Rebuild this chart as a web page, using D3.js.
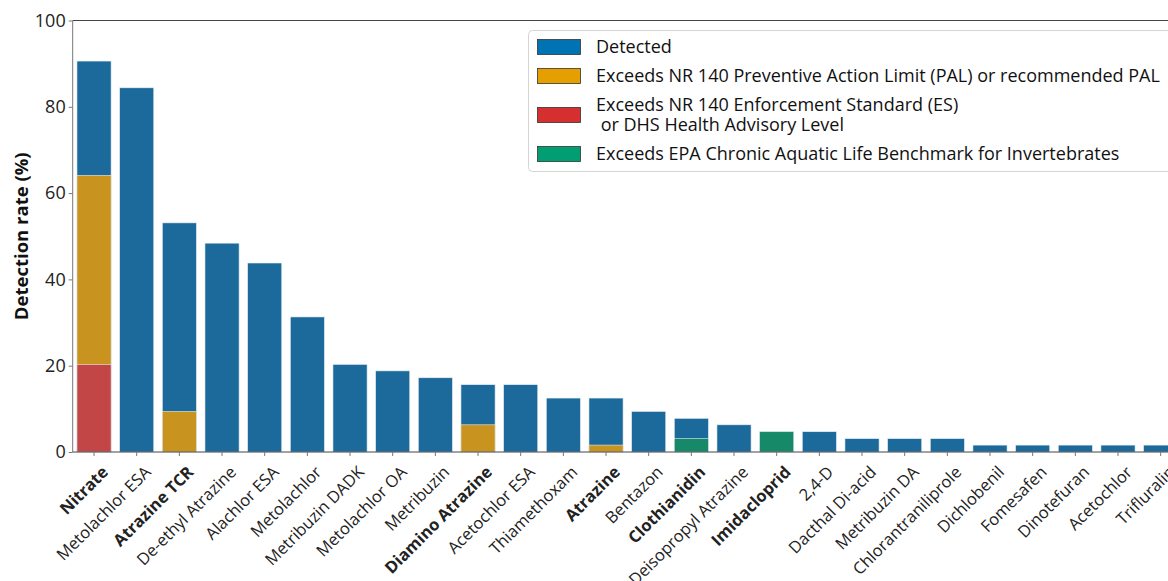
<!DOCTYPE html>
<html>
<head>
<meta charset="utf-8">
<script src="https://cdn.jsdelivr.net/npm/d3@7"></script>
<style>
  html, body { margin: 0; padding: 0; background: #fff; }
  svg { display: block; font-family: "Open Sans", "Noto Sans", sans-serif; }
</style>
</head>
<body>
<svg id="chart" width="1168" height="581"></svg>
<script>
// Compounds, in order of overall detection rate
const compounds = [
  "Nitrate", "Metolachlor ESA", "Atrazine TCR", "De-ethyl Atrazine", "Alachlor ESA",
  "Metolachlor", "Metribuzin DADK", "Metolachlor OA", "Metribuzin", "Diamino Atrazine",
  "Acetochlor ESA", "Thiamethoxam", "Atrazine", "Bentazon", "Clothianidin",
  "Deisopropyl Atrazine", "Imidacloprid", "2,4-D", "Dacthal Di-acid", "Metribuzin DA",
  "Chlorantraniliprole", "Dichlobenil", "Fomesafen", "Dinotefuran", "Acetochlor", "Trifluralin"
];
// Compounds with a health or aquatic-life standard (labels drawn in bold)
const boldCompounds = ["Nitrate", "Atrazine TCR", "Diamino Atrazine", "Atrazine", "Clothianidin", "Imidacloprid"];

// Detection rates (%)
const detected = [90.6, 84.4, 53.1, 48.4, 43.8, 31.3, 20.3, 18.8, 17.2, 15.6,
                  15.6, 12.5, 12.5, 9.4, 7.8, 6.3, 4.7, 4.7, 3.1, 3.1,
                  3.1, 1.6, 1.6, 1.6, 1.6, 1.6];
const exceedsPAL = [64.1, 0, 9.4, 0, 0, 0, 0, 0, 0, 6.3,
                    0, 0, 1.6, 0, 0, 0, 0, 0, 0, 0,
                    0, 0, 0, 0, 0, 0];
const exceedsES = [20.3, 0, 0, 0, 0, 0, 0, 0, 0, 0,
                   0, 0, 0, 0, 0, 0, 0, 0, 0, 0,
                   0, 0, 0, 0, 0, 0];
const exceedsBenchmark = [0, 0, 0, 0, 0, 0, 0, 0, 0, 0,
                          0, 0, 0, 0, 3.1, 0, 4.7, 0, 0, 0,
                          0, 0, 0, 0, 0, 0];

const yTicks = [0, 20, 40, 60, 80, 100];

const legendLabels = [
  ["Detected"],
  ["Exceeds NR 140 Preventive Action Limit (PAL) or recommended PAL"],
  ["Exceeds NR 140 Enforcement Standard (ES)", " or DHS Health Advisory Level"],
  ["Exceeds EPA Chronic Aquatic Life Benchmark for Invertebrates"]
];

// Bar fills (slightly muted) and matching legend swatches
const barColors = ["#1b6a9b", "#c9931f", "#c24646", "#168a68"];
const swatchColors = ["#0173b2", "#e69f00", "#d62f2f", "#029e73"];

const svg = d3.select("#chart");
const margin = { left: 72.7, top: 20.5, bottom: 452 };
const plotRight = 1182;

const x = d3.scaleBand()
  .domain(compounds)
  .range([margin.left, plotRight])
  .paddingInner(0.2)
  .paddingOuter(0.1);

const y = d3.scaleLinear().domain([0, 100]).range([margin.bottom, margin.top]);

const layers = [detected, exceedsPAL, exceedsES, exceedsBenchmark];
const plot = svg.append("g");

layers.forEach((vals, li) => {
  plot.append("g").selectAll("rect")
    .data(compounds.map((c, i) => ({ c, v: vals[i] })).filter(d => d.v > 0))
    .join("rect")
    .attr("x", d => x(d.c))
    .attr("width", x.bandwidth())
    .attr("y", d => y(d.v))
    .attr("height", d => y(0) - y(d.v))
    .attr("fill", barColors[li])
    .attr("stroke", "#e6eef3")
    .attr("stroke-width", 0.6);
});

// Spines
const spineColor = "#444";
svg.append("line").attr("x1", margin.left).attr("x2", plotRight)
  .attr("y1", margin.top).attr("y2", margin.top)
  .attr("stroke", spineColor).attr("stroke-width", 1);
svg.append("line").attr("x1", margin.left).attr("x2", plotRight)
  .attr("y1", margin.bottom).attr("y2", margin.bottom)
  .attr("stroke", spineColor).attr("stroke-width", 1);
svg.append("line").attr("x1", margin.left).attr("x2", margin.left)
  .attr("y1", margin.top).attr("y2", margin.bottom)
  .attr("stroke", "#777").attr("stroke-width", 1);

// Y axis
const yAxis = svg.append("g")
  .attr("transform", `translate(${margin.left},0)`)
  .call(d3.axisLeft(y).tickValues(yTicks).tickSize(4).tickPadding(3));
yAxis.select(".domain").remove();
yAxis.selectAll(".tick line").attr("stroke", "#777");
yAxis.selectAll(".tick text")
  .attr("font-size", 18).attr("fill", "#222")
  .attr("font-family", "'Open Sans', sans-serif");

svg.append("text")
  .attr("transform", `translate(28,${(margin.top + margin.bottom) / 2}) rotate(-90)`)
  .attr("text-anchor", "middle")
  .attr("font-size", 18.5).attr("font-weight", "bold").attr("fill", "#111")
  .text("Detection rate (%)");

// X axis
const xAxis = svg.append("g")
  .attr("transform", `translate(0,${margin.bottom})`)
  .call(d3.axisBottom(x).tickSize(4).tickFormat(""));
xAxis.select(".domain").remove();
xAxis.selectAll(".tick line").attr("stroke", "#777");

svg.append("g").selectAll("text")
  .data(compounds)
  .join("text")
  .attr("transform", d => `translate(${x(d) + x.bandwidth() / 2 + 7},${margin.bottom + 13}) rotate(-45)`)
  .attr("text-anchor", "end")
  .attr("dy", "0.7em")
  .attr("font-size", 16.5)
  .attr("fill", "#222")
  .attr("font-weight", d => boldCompounds.includes(d) ? "bold" : "normal")
  .text(d => d);

// Legend
const legend = svg.append("g");
legend.append("rect")
  .attr("x", 528.5).attr("y", 30.5)
  .attr("width", 660).attr("height", 141)
  .attr("rx", 4)
  .attr("fill", "#fff").attr("fill-opacity", 0.9)
  .attr("stroke", "#d4d4d4");

const rowY = [47, 76, 115, 154];
legendLabels.forEach((lines, i) => {
  legend.append("rect")
    .attr("x", 537.5).attr("y", rowY[i] - 7.5)
    .attr("width", 43).attr("height", 15)
    .attr("fill", swatchColors[i])
    .attr("stroke", "#333").attr("stroke-width", 0.8);
  const startY = rowY[i] - (lines.length - 1) * 10;
  lines.forEach((ln, k) => {
    legend.append("text")
      .attr("x", 596)
      .attr("y", startY + k * 20)
      .attr("dy", "0.35em")
      .attr("font-size", 18)
      .attr("fill", "#111")
      .attr("xml:space", "preserve")
      .style("white-space", "pre")
      .text(ln);
  });
});
</script>
</body>
</html>
